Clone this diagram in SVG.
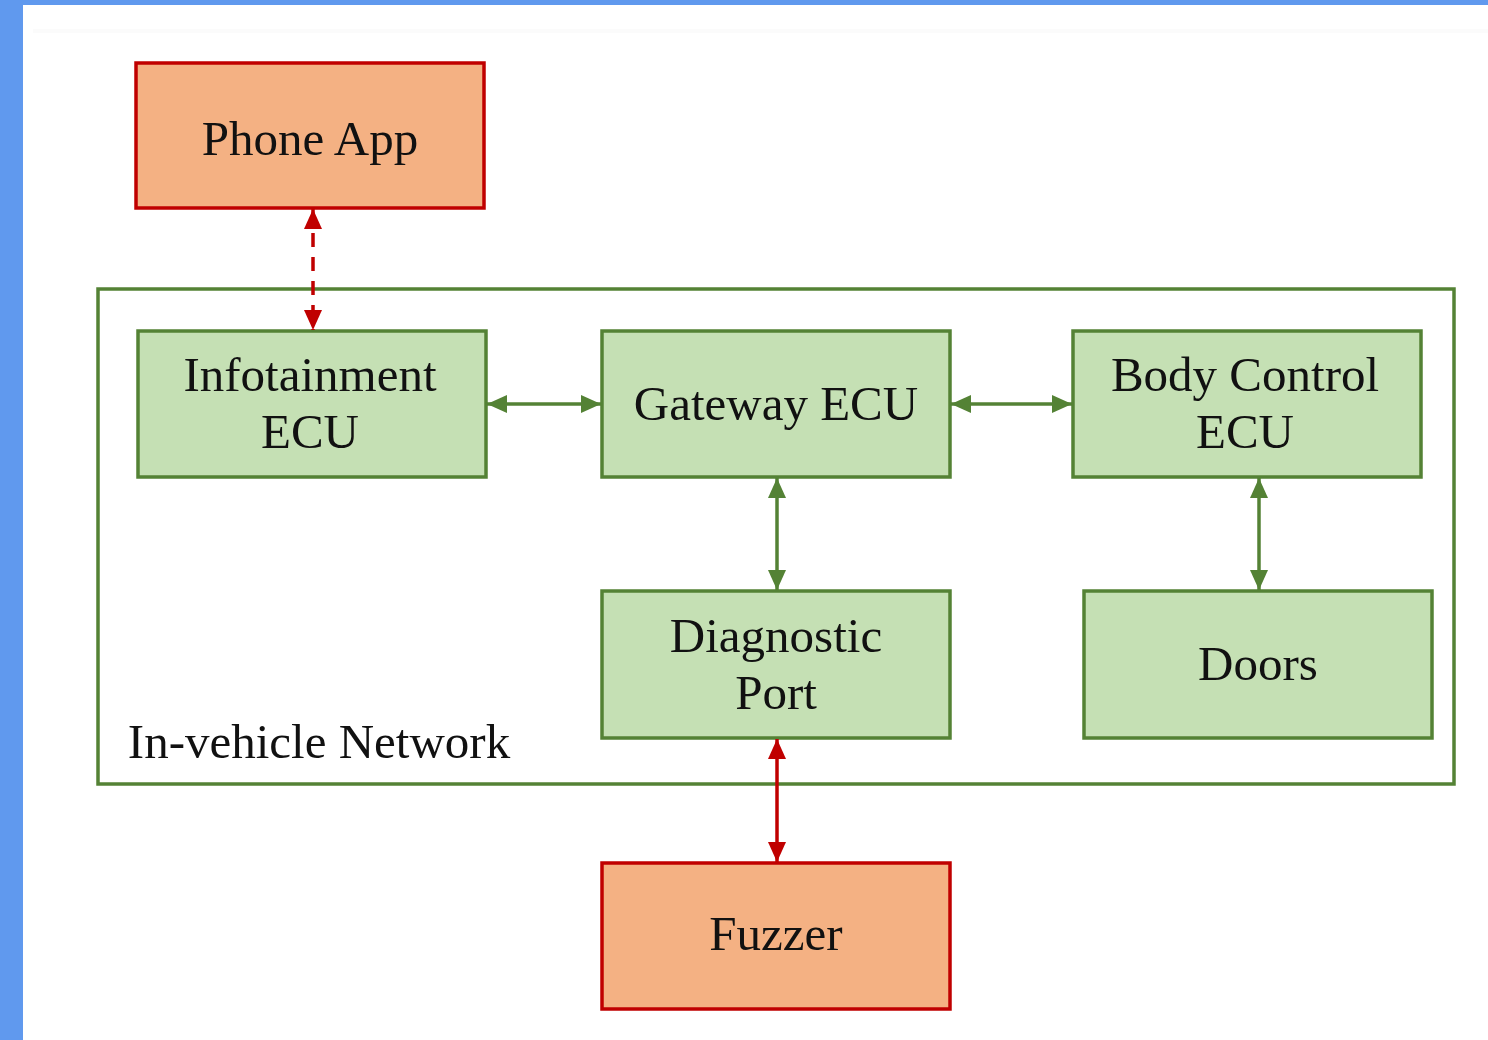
<svg xmlns="http://www.w3.org/2000/svg" width="1488" height="1040" viewBox="0 0 1488 1040">
<style>
.red{fill:#F4B183;stroke:#C00000;stroke-width:3.5}
.grn{fill:#C5E0B4;stroke:#548235;stroke-width:3.5}
.t{font-family:"Liberation Serif","Times New Roman",serif;font-size:49px;fill:#111;text-anchor:middle}
.lg{stroke:#548235;stroke-width:3.5;fill:none}
.lr{stroke:#C00000;stroke-width:3.5;fill:none}
</style>
<defs>
<marker id="ag" viewBox="0 0 20 18" refX="20" refY="9" markerWidth="20" markerHeight="18" markerUnits="userSpaceOnUse" orient="auto-start-reverse"><path d="M0,0 L20,9 L0,18 Z" fill="#548235"/></marker>
<marker id="ar" viewBox="0 0 20 18" refX="20" refY="9" markerWidth="20" markerHeight="18" markerUnits="userSpaceOnUse" orient="auto-start-reverse"><path d="M0,0 L20,9 L0,18 Z" fill="#C00000"/></marker>
</defs>
<rect x="0" y="0" width="1488" height="1040" fill="#ffffff"/>
<rect x="0" y="0" width="1488" height="5" fill="#6099EE"/>
<rect x="0" y="0" width="23" height="1040" fill="#6099EE"/>
<rect x="33" y="29" width="1455" height="4" fill="#FBFBFB"/>
<g id="network">
<rect x="98" y="289" width="1356" height="495" fill="none" stroke="#548235" stroke-width="3.5"/>
<text class="t" x="319" y="758">In-vehicle Network</text>
</g>
<g id="phone-app">
<rect class="red" x="136" y="63" width="348" height="145"/>
<text class="t" x="310" y="155">Phone App</text>
</g>
<g id="infotainment-ecu">
<rect class="grn" x="138" y="331" width="348" height="146"/>
<text class="t" x="310" y="391">Infotainment</text>
<text class="t" x="310" y="448">ECU</text>
</g>
<g id="gateway-ecu">
<rect class="grn" x="602" y="331" width="348" height="146"/>
<text class="t" x="776" y="420">Gateway ECU</text>
</g>
<g id="body-control-ecu">
<rect class="grn" x="1073" y="331" width="348" height="146"/>
<text class="t" x="1245" y="391">Body Control</text>
<text class="t" x="1245" y="448">ECU</text>
</g>
<g id="diagnostic-port">
<rect class="grn" x="602" y="591" width="348" height="147"/>
<text class="t" x="776" y="652">Diagnostic</text>
<text class="t" x="776" y="709">Port</text>
</g>
<g id="doors">
<rect class="grn" x="1084" y="591" width="348" height="147"/>
<text class="t" x="1258" y="680">Doors</text>
</g>
<g id="fuzzer">
<rect class="red" x="602" y="863" width="348" height="146"/>
<text class="t" x="776" y="950">Fuzzer</text>
</g>
<g id="connectors">
<line class="lr" x1="313" y1="209" x2="313" y2="330" stroke-dasharray="14,10" marker-start="url(#ar)" marker-end="url(#ar)"/>
<line class="lg" x1="487" y1="404" x2="601" y2="404" marker-start="url(#ag)" marker-end="url(#ag)"/>
<line class="lg" x1="951" y1="404" x2="1072" y2="404" marker-start="url(#ag)" marker-end="url(#ag)"/>
<line class="lg" x1="777" y1="478" x2="777" y2="590" marker-start="url(#ag)" marker-end="url(#ag)"/>
<line class="lg" x1="1259" y1="478" x2="1259" y2="590" marker-start="url(#ag)" marker-end="url(#ag)"/>
<line class="lr" x1="777" y1="739" x2="777" y2="862" marker-start="url(#ar)" marker-end="url(#ar)"/>
</g>
</svg>
